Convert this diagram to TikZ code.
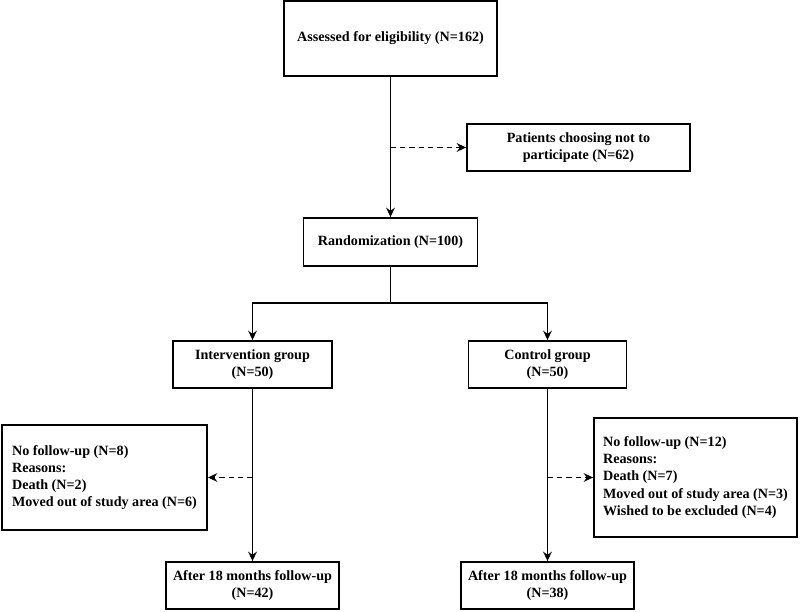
\documentclass[tikz,border=0pt]{standalone}
\usepackage{fontspec}
\setmainfont{Liberation Serif}
\usetikzlibrary{arrows.meta}

\tikzset{
	box/.style={draw, line width=1.4pt, align=center, inner sep=0pt,
		font=\bfseries\fontsize{10.6}{12.9}\selectfont},
	sidebox/.style={box, align=left},
	link/.style={line width=1.4pt},
	arr/.style={link, -{Stealth[length=7pt,width=6.5pt]}},
	darr/.style={arr, dash pattern=on 4pt off 3pt}
}

\begin{document}
\begin{tikzpicture}[x=0.75pt, y=-0.75pt]

						\useasboundingbox (0,0) rectangle (800,611);

						\node[box, minimum width=159.75pt, minimum height=56.25pt] (elig) at (390.5, 38.5) {Assessed for eligibility (N=162)};
						\node[box, minimum width=167.25pt, minimum height=35.25pt] (refuse) at (578.5, 147.5) {Patients choosing not to\\participate (N=62)};
						\node[box, minimum width=130.5pt, minimum height=36pt] (rand) at (390.5, 242) {Randomization (N=100)};
						\node[box, minimum width=119.25pt, minimum height=35.25pt] (interv) at (252.5, 364.5) {Intervention group\\(N=50)};
						\node[box, minimum width=118.5pt, minimum height=35.25pt] (control) at (547.5, 364.5) {Control group\\(N=50)};
						\node[sidebox, minimum width=153.75pt, minimum height=78.75pt] (lossI) at (104.5, 477.5) {No follow-up (N=8)\\Reasons:\\Death (N=2)\\Moved out of study area (N=6)};
						\node[sidebox, minimum width=152.25pt, minimum height=89.25pt] (lossC) at (695.5, 477.5) {No follow-up (N=12)\\Reasons:\\Death (N=7)\\Moved out of study area (N=3)\\Wished to be excluded (N=4)};
						\node[box, minimum width=129.75pt, minimum height=35.25pt] (endI) at (252.5, 585.5) {After 18 months follow-up\\(N=42)};
						\node[box, minimum width=129.75pt, minimum height=35.25pt] (endC) at (547.5, 585.5) {After 18 months follow-up\\(N=38)};

						\coordinate (split) at (390.5, 303);
						\coordinate (d1) at (elig.south |- refuse.west);
						\coordinate (d2) at (interv.south |- lossI.east);
						\coordinate (d3) at (control.south |- lossC.west);

						\draw[arr] (elig)--(rand);
						\draw[darr] (d1)--(refuse.west);
						\draw[link] (rand)--(split);
						\draw[arr] (split)-|(interv.north);
						\draw[arr] (split)-|(control.north);
						\draw[arr] (interv)--(endI);
						\draw[arr] (control)--(endC);
						\draw[darr] (d2)--(lossI.east);
						\draw[darr] (d3)--(lossC.west);

					\end{tikzpicture}
\end{document}
